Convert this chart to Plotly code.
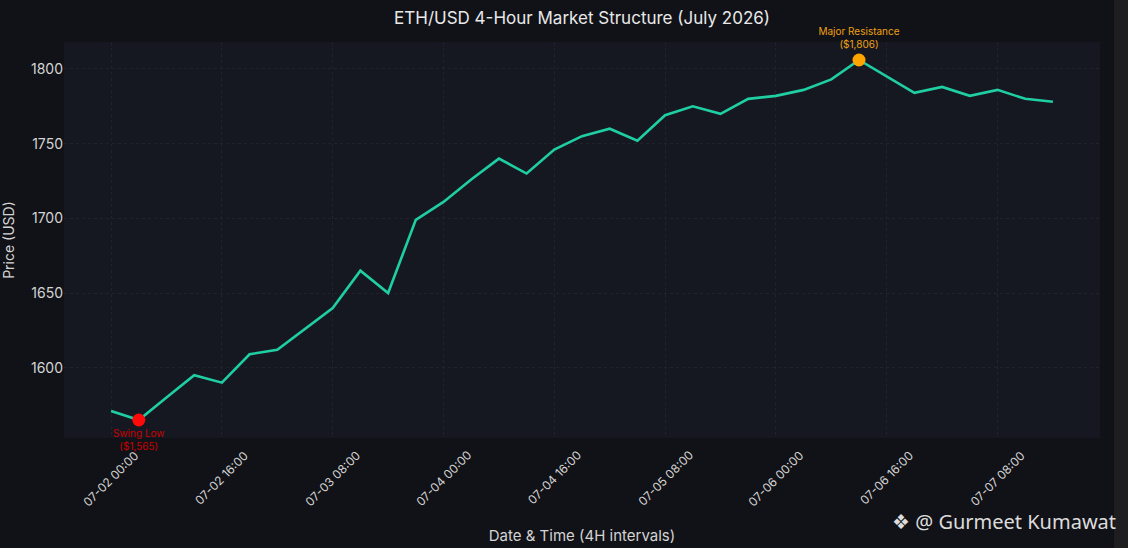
import pandas as pd
import plotly.graph_objects as go

# 4H candles, 07-02 00:00 .. 07-07 16:00
times = pd.date_range("2026-07-02 00:00", periods=35, freq="4h")
prices = [1571, 1565, 1580, 1595, 1590, 1609, 1612, 1626, 1640, 1665,
          1650, 1699, 1711, 1726, 1740, 1730, 1746, 1755, 1760, 1752,
          1769, 1775, 1770, 1780, 1782, 1786, 1793, 1806, 1795, 1784,
          1788, 1782, 1786, 1780, 1778]

low_idx = 1
high_idx = 27
low_label = "Swing Low<br>($1,565)"
high_label = "Major Resistance<br>($1,806)"

# every 4th candle gets a tick
tick_times = times[::4]
tick_labels = [t.strftime("%m-%d %H:%M") for t in tick_times]

pad = (times[-1] - times[0]) * 0.05
x_range = [times[0] - pad, times[-1] + pad]
y_pad = (max(prices) - min(prices)) * 0.05
y_range = [min(prices) - y_pad, max(prices) + y_pad]

fig = go.Figure()
fig.add_trace(go.Scatter(x=times, y=prices, mode="lines", name="ETH/USD",
                         line=dict(color="#1fcfa3", width=2.6)))
fig.add_trace(go.Scatter(x=[times[low_idx]], y=[prices[low_idx]], mode="markers+text",
                         text=[low_label], textposition="bottom center", cliponaxis=False,
                         textfont=dict(color="#c80000", size=10),
                         marker=dict(color="#ff0a0a", size=13)))
fig.add_trace(go.Scatter(x=[times[high_idx]], y=[prices[high_idx]], mode="markers+text",
                         text=[high_label], textposition="top center", cliponaxis=False,
                         textfont=dict(color="#eea010", size=10),
                         marker=dict(color="#ffa500", size=13)))

# rotated tick labels centred on their ticks
for t, lab in zip(tick_times, tick_labels):
    fig.add_annotation(x=t, y=-0.018, xref="x", yref="paper", text=lab, textangle=-45,
                       xanchor="center", yanchor="top", showarrow=False,
                       font=dict(size=12, color="#d4d4d4"))

# darker strip at the right edge
fig.add_shape(type="rect", xref="paper", yref="paper", x0=1.0135, x1=1.1, y0=-0.5, y1=1.5,
              fillcolor="#1e1e20", line_width=0, layer="below")

fig.add_annotation(text="❖ @ Gurmeet Kumawat", xref="paper", yref="paper",
                   x=1.017, y=-0.21, xanchor="right", yanchor="middle", showarrow=False,
                   font=dict(family="Noto Sans", size=20, color="#dcdcdc"))

fig.update_layout(
    width=1128, height=548,
    margin=dict(l=64, r=28, t=42, b=110),
    paper_bgcolor="#111217",
    plot_bgcolor="#161821",
    showlegend=False,
    font=dict(family="Inter", color="#d4d4d4", size=14),
    title=dict(text="ETH/USD 4-Hour Market Structure (July 2026)", x=0.516, xanchor="center",
               y=0.967, yanchor="middle", font=dict(size=17, color="#e8e8e8")),
    xaxis=dict(title=dict(text="Date & Time (4H intervals)", font=dict(size=15), standoff=92),
               tickvals=tick_times, showticklabels=False, showgrid=True, automargin=False,
               gridcolor="#20232e", griddash="dot", zeroline=False, range=x_range),
    yaxis=dict(title=dict(text="Price (USD)", font=dict(size=14), standoff=14),
               showgrid=True, gridcolor="#20232e", griddash="dot", zeroline=False,
               automargin=False, range=y_range, dtick=50, tickfont=dict(size=14)),
)

# drop the default page margin so the figure sits at the window corner
fig.write_html("out.html", config={"displayModeBar": False},
               post_script="document.body.style.margin='0';")
